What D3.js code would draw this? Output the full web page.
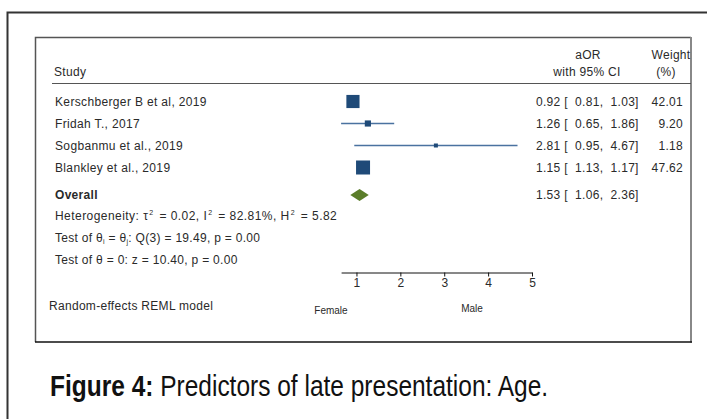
<!DOCTYPE html>
<html><head><meta charset="utf-8">
<script src="https://cdn.jsdelivr.net/npm/d3@7"></script>
<style>
body{margin:0;background:#fff;}
svg text{font-family:"Liberation Sans",Arial,sans-serif;white-space:pre;}
</style></head>
<body><svg id="c" width="707" height="419"></svg>
<script>
const studies = ["Kerschberger B et al, 2019","Fridah T., 2017","Sogbanmu et al., 2019","Blankley et al., 2019"];
const aor = [0.92, 1.26, 2.81, 1.15];
const lo = [0.81, 0.65, 0.95, 1.13];
const hi = [1.03, 1.86, 4.67, 1.17];
const weight = [42.01, 9.20, 1.18, 47.62];
const overall = {label:"Overall", aor:1.53, lo:1.06, hi:2.36};
// diamond as drawn in the figure
const diamondPts = [0.86, 1.07, 1.28];
const ticks = [1,2,3,4,5];

const svg = d3.select("#c");
const x = d3.scaleLinear().domain([0.65,5]).range([341.1,532]);
const rowY = d3.scaleLinear().domain([0,1]).range([101.5,123.5]);

// frames
svg.append("path").attr("d","M7.5,430V12.5H720").attr("fill","none").attr("stroke","#333").attr("stroke-width",2);
svg.append("path").attr("d","M35.5,342V37.5H691").attr("fill","none").attr("stroke","#555").attr("stroke-width",1.5);
svg.append("line").attr("x1",691).attr("x2",691).attr("y1",37).attr("y2",342.5).attr("stroke","#888").attr("stroke-width",2);
svg.append("line").attr("x1",35).attr("x2",692).attr("y1",342).attr("y2",342).attr("stroke","#111").attr("stroke-width",1.5);

const fs = 12;
const col = "#2a2a2a";
function txt(xx,yy,s,anchor){
  return svg.append("text").attr("x",xx).attr("y",yy).attr("font-size",fs).attr("fill",col)
    .attr("text-anchor",anchor||"start").attr("letter-spacing",0.3).text(s);
}
txt(54,76,"Study");
txt(588,59,"aOR","middle");
txt(587,76,"with 95% CI","middle");
txt(671,59,"Weight","middle");
txt(666,76,"(%)","middle");
svg.append("line").attr("x1",52).attr("x2",691).attr("y1",83.5).attr("y2",83.5).attr("stroke","#555").attr("stroke-width",1.2);

const f2 = d3.format(".2f");
const maxW = d3.max(weight);
studies.forEach((s,i)=>{
  const y = rowY(i);
  txt(55,y+4,s).attr("letter-spacing",0.35);
  svg.append("line").attr("x1",x(lo[i])).attr("x2",x(hi[i])).attr("y1",y).attr("y2",y).attr("stroke","#4a72a0").attr("stroke-width",1.3);
  const sz = Math.max(4, 14*Math.sqrt(weight[i]/maxW));
  svg.append("rect").attr("x",x(aor[i])-sz/2).attr("y",y-sz/2).attr("width",sz).attr("height",sz).attr("fill","#1f4a78");
  txt(536,y+4,`${f2(aor[i])} [  ${f2(lo[i])},  ${f2(hi[i])}]`);
  txt(683,y+4,f2(weight[i]),"end");
});

const oy = 195;
txt(55,oy+4,overall.label).attr("font-weight","bold");
svg.append("path").attr("d",`M${x(diamondPts[0])},${oy}L${x(diamondPts[1])},${oy-6}L${x(diamondPts[2])},${oy}L${x(diamondPts[1])},${oy+6}Z`).attr("fill","#5b7d2a");
txt(536,oy+4,`${f2(overall.aor)} [  ${f2(overall.lo)},  ${f2(overall.hi)}]`);

// heterogeneity lines
function sup(t, parts){
  parts.forEach(p=>{
    const ts = t.append("tspan").text(p[0]);
    if(p[1]==="sup") ts.attr("font-size",7).attr("dy",-5).attr("dx",1);
    if(p[1]==="back") ts.attr("dy",5).attr("dx",2);
    if(p[1]==="sub") ts.attr("font-size",7).attr("dy",2);
    if(p[1]==="up") ts.attr("dy",-2);
  });
}
let t1 = txt(55,220,"").attr("letter-spacing",0.45);
sup(t1,[["Heterogeneity: τ"],["2","sup"],[" = 0.02, I","back"],["2","sup"],[" = 82.81%, H","back"],["2","sup"],[" = 5.82","back"]]);
let t2 = txt(55,242,"");
sup(t2,[["Test of θ"],["i","sub"],[" = θ","up"],["j","sub"],[": Q(3) = 19.49, p = 0.00","up"]]);
txt(55,264,"Test of θ = 0: z = 10.40, p = 0.00");

// axis
const ax = svg.append("g").attr("transform","translate(0,272.5)")
  .call(d3.axisBottom(x).tickValues(ticks).tickSize(4).tickSizeOuter(0).tickFormat(d3.format("d")));
ax.select(".domain").attr("stroke","#111");
ax.selectAll(".tick line").attr("stroke","#111");
ax.selectAll(".tick text").attr("font-size",12).attr("fill",col).attr("font-family","Liberation Sans, Arial, sans-serif").attr("dy","0.6em");

txt(49,310,"Random-effects REML model");
svg.append("text").attr("x",331).attr("y",314).attr("text-anchor","middle").attr("font-size",10).attr("fill",col).text("Female");
svg.append("text").attr("x",472).attr("y",312).attr("text-anchor","middle").attr("font-size",10).attr("fill",col).text("Male");

// caption (narrow/tall like Calibri: fit width, stretch vertically)
const capG = svg.append("g").attr("transform","translate(50,396) scale(1,1.2)");
const cap = capG.append("text").attr("x",0).attr("y",0).attr("font-size",22).attr("fill","#111").attr("font-family","Open Sans, sans-serif");
cap.append("tspan").attr("font-weight","bold").text("Figure 4:");
cap.append("tspan").text(" Predictors of late presentation: Age.");
const w = cap.node().getComputedTextLength();
cap.attr("font-size", 22*498/w);
</script></body></html>
